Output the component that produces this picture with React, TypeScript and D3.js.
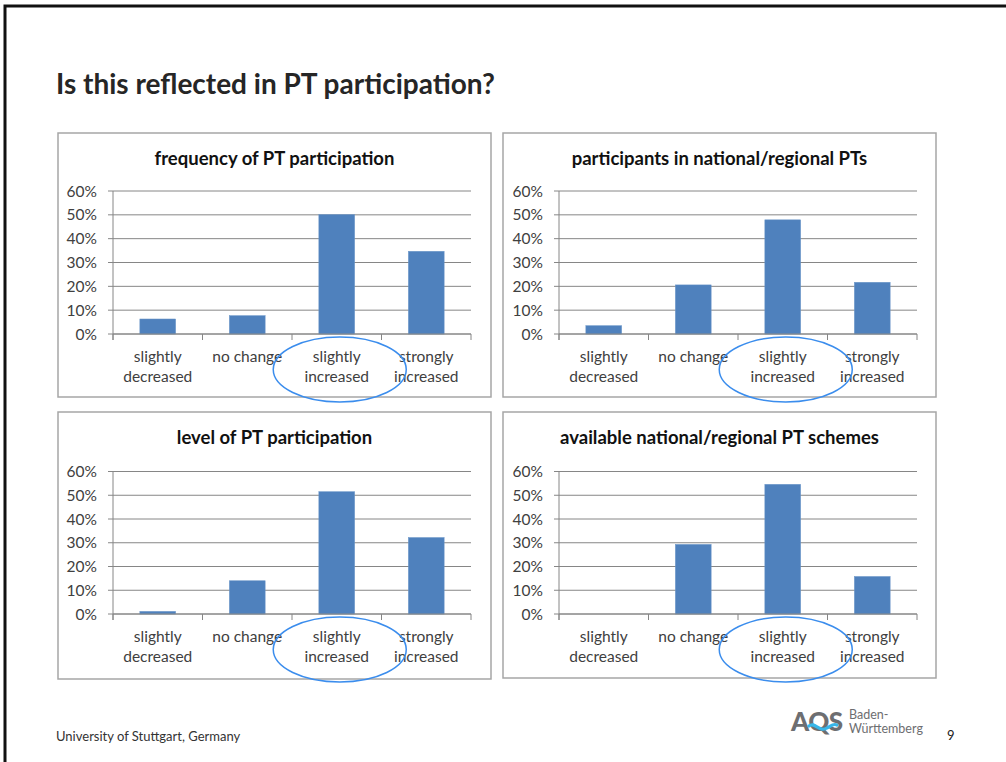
import * as d3 from "d3";
import { useEffect, useRef } from "react";

const categories = [
  ["slightly", "decreased"],
  ["no change"],
  ["slightly", "increased"],
  ["strongly", "increased"],
];
const yTicks = [0, 10, 20, 30, 40, 50, 60];

const chartTitles = [
  "frequency of PT participation",
  "participants in national/regional PTs",
  "level of PT participation",
  "available national/regional PT schemes",
];
const frequency = [6.3, 7.7, 50.1, 34.7];
const participants = [3.5, 20.6, 47.9, 21.7];
const level = [1.1, 14.0, 51.5, 32.2];
const schemes = [0, 29.3, 54.6, 15.8];
const highlighted = 2; // "slightly increased" is circled

const FONT = "Lato, 'Open Sans', sans-serif";
const TEXT = "#404040";

// panel boxes: x, y, w, h, plot left/right/top/bottom
const panels = [
  { x: 58, y: 133, w: 433, h: 264, l: 113, r: 471, t: 191, b: 334 },
  { x: 503, y: 133, w: 433, h: 264, l: 559, r: 917, t: 191, b: 334 },
  { x: 58, y: 412, w: 433, h: 267, l: 113, r: 471, t: 471.5, b: 614 },
  { x: 503, y: 412, w: 433, h: 266, l: 559, r: 917, t: 471.5, b: 614 },
];

const App = () => {
  const ref = useRef(null);

  useEffect(() => {
    const svg = d3.select(ref.current);
    svg.selectAll("*").remove();

    svg.append("rect").attr("width", 1006).attr("height", 762).attr("fill", "white");
    // slide frame
    svg.append("rect")
      .attr("x", 5).attr("y", 6).attr("width", 1020).attr("height", 780)
      .attr("fill", "none").attr("stroke", "#111").attr("stroke-width", 3);

    svg.append("text")
      .attr("x", 56).attr("y", 94)
      .attr("font-family", FONT).attr("font-weight", "bold").attr("font-size", 28)
      .attr("fill", "#262626")
      .text("Is this reflected in PT participation?");

    const series = [frequency, participants, level, schemes];

    panels.forEach((p, i) => {
      const values = series[i];
      const g = svg.append("g");

      g.append("rect")
        .attr("x", p.x).attr("y", p.y).attr("width", p.w).attr("height", p.h)
        .attr("fill", "white").attr("stroke", "#a6a6a6").attr("stroke-width", 1.5);

      g.append("text")
        .attr("x", p.x + p.w / 2).attr("y", p.y + 32)
        .attr("text-anchor", "middle")
        .attr("font-family", FONT).attr("font-weight", "bold").attr("font-size", 18.5)
        .attr("fill", "#111")
        .text(chartTitles[i]);

      const x = d3.scaleBand()
        .domain(d3.range(categories.length))
        .range([p.l, p.r])
        .paddingInner(0.6)
        .paddingOuter(0.3);
      const xb = d3.scaleBand().domain(d3.range(categories.length)).range([p.l, p.r]);
      const y = d3.scaleLinear().domain([0, 60]).range([p.b, p.t]);

      // gridlines + y ticks
      g.selectAll(".grid")
        .data(yTicks)
        .join("line")
        .attr("x1", p.l - 5).attr("x2", p.r)
        .attr("y1", (d) => y(d)).attr("y2", (d) => y(d))
        .attr("stroke", "#868686").attr("stroke-width", 1);

      g.selectAll(".ylab")
        .data(yTicks)
        .join("text")
        .attr("x", p.l - 16).attr("y", (d) => y(d) + 5.5)
        .attr("text-anchor", "end")
        .attr("font-family", FONT).attr("font-size", 15.5).attr("fill", TEXT)
        .text((d) => d + "%");

      // bars
      g.selectAll(".bar")
        .data(values)
        .join("rect")
        .attr("x", (_, j) => x(j))
        .attr("width", x.bandwidth())
        .attr("y", (d) => y(d))
        .attr("height", (d) => y(0) - y(d))
        .attr("fill", "#4f81bd")
        .attr("stroke", "#6a95c8").attr("stroke-width", 0.5);

      // axes
      g.append("line")
        .attr("x1", p.l).attr("x2", p.l).attr("y1", y(60)).attr("y2", y(0) + 6)
        .attr("stroke", "#868686");
      g.append("line")
        .attr("x1", p.l).attr("x2", p.r).attr("y1", y(0)).attr("y2", y(0))
        .attr("stroke", "#868686");
      g.selectAll(".xtick")
        .data(d3.range(categories.length + 1))
        .join("line")
        .attr("x1", (d) => p.l + d * xb.bandwidth())
        .attr("x2", (d) => p.l + d * xb.bandwidth())
        .attr("y1", y(0)).attr("y2", y(0) + 6)
        .attr("stroke", "#868686");

      // category labels
      categories.forEach((lines, j) => {
        const t = g.append("text")
          .attr("text-anchor", "middle")
          .attr("font-family", FONT).attr("font-size", 15.5).attr("fill", TEXT);
        lines.forEach((ln, k) => {
          t.append("tspan")
            .attr("x", xb(j) + xb.bandwidth() / 2)
            .attr("y", y(0) + 28 + k * 20)
            .text(ln);
        });
      });

      // highlight ellipse
      g.append("ellipse")
        .attr("cx", xb(highlighted) + xb.bandwidth() / 2 + 3)
        .attr("cy", y(0) + 35.5)
        .attr("rx", 66.5).attr("ry", 32.5)
        .attr("fill", "none").attr("stroke", "#3b8ded").attr("stroke-width", 1.5);
    });

    // footer
    svg.append("text")
      .attr("x", 56).attr("y", 741)
      .attr("font-family", FONT).attr("font-size", 13).attr("fill", "#333")
      .text("University of Stuttgart, Germany");
    svg.append("text")
      .attr("x", 947).attr("y", 740)
      .attr("font-family", FONT).attr("font-size", 13).attr("fill", "#222")
      .text("9");

    // AQS logo
    const logo = svg.append("g");
    logo.append("text")
      .attr("x", 791).attr("y", 731)
      .attr("font-family", FONT).attr("font-weight", 900).attr("font-size", 26)
      .attr("fill", "#6d6e71").attr("letter-spacing", -0.5)
      .text("AQS");
    logo.append("path")
      .attr("d", "M809,726 C815,721 819,733 827,728 C831,726 833,723 837,725")
      .attr("fill", "none").attr("stroke", "#38b6e8").attr("stroke-width", 3.2)
      .attr("stroke-linecap", "round");
    logo.append("text")
      .attr("x", 849).attr("y", 719)
      .attr("font-family", FONT).attr("font-size", 12.5).attr("fill", "#6d6e71")
      .text("Baden-");
    logo.append("text")
      .attr("x", 849).attr("y", 733)
      .attr("font-family", FONT).attr("font-size", 12.5).attr("fill", "#6d6e71")
      .text("Württemberg");
  }, []);

  return (
    <svg
      ref={ref}
      width={1006}
      height={762}
      style={{ position: "absolute", left: 0, top: 0 }}
    />
  );
};

export default App;
